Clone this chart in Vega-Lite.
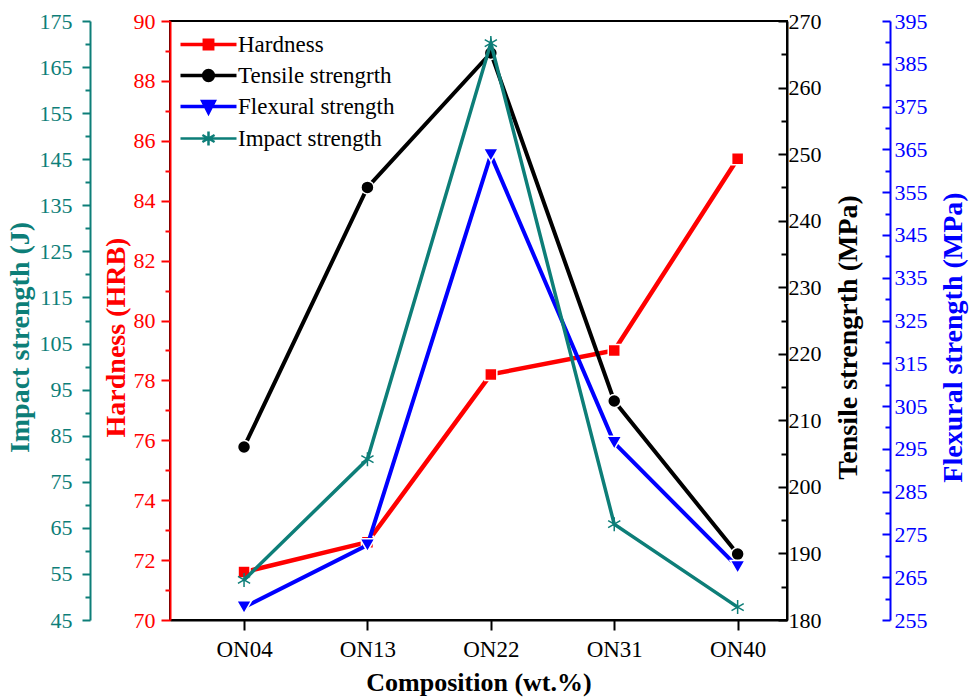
{
  "$schema": "https://vega.github.io/schema/vega-lite/v6.json",
  "width": 617,
  "height": 599,
  "autosize": {"type": "none"},
  "padding": {"left": 170, "top": 21, "right": 182, "bottom": 78},
  "background": "white",
  "config": {
    "view": {"stroke": "black", "strokeWidth": 2},
    "font": "Liberation Serif",
    "style": {
      "guide-label": {"font": "Liberation Serif"},
      "guide-title": {"font": "Liberation Serif"}
    },
    "axis": {
      "grid": false,
      "labelFont": "Liberation Serif",
      "titleFont": "Liberation Serif",
      "labelFontSize": 22,
      "titleFontSize": 28,
      "titleFontWeight": "bold",
      "domainWidth": 2,
      "tickWidth": 2,
      "labelFlush": false,
      "labelOverlap": false
    }
  },
  "data": {
    "values": [
      {"comp": "ON04", "property": "Hardness", "value": 71.6},
      {"comp": "ON13", "property": "Hardness", "value": 72.6},
      {"comp": "ON22", "property": "Hardness", "value": 78.2},
      {"comp": "ON31", "property": "Hardness", "value": 79.0},
      {"comp": "ON40", "property": "Hardness", "value": 85.4},
      {"comp": "ON04", "property": "Tensile strengrth", "value": 206.0},
      {"comp": "ON13", "property": "Tensile strengrth", "value": 245.0},
      {"comp": "ON22", "property": "Tensile strengrth", "value": 265.2},
      {"comp": "ON31", "property": "Tensile strengrth", "value": 212.9},
      {"comp": "ON40", "property": "Tensile strengrth", "value": 189.9},
      {"comp": "ON04", "property": "Flexural strength", "value": 258.0},
      {"comp": "ON13", "property": "Flexural strength", "value": 272.5},
      {"comp": "ON22", "property": "Flexural strength", "value": 363.7},
      {"comp": "ON31", "property": "Flexural strength", "value": 296.4},
      {"comp": "ON40", "property": "Flexural strength", "value": 267.4},
      {"comp": "ON04", "property": "Impact strength", "value": 53.7},
      {"comp": "ON13", "property": "Impact strength", "value": 79.9},
      {"comp": "ON22", "property": "Impact strength", "value": 170.2},
      {"comp": "ON31", "property": "Impact strength", "value": 65.8},
      {"comp": "ON40", "property": "Impact strength", "value": 47.8}
    ]
  },
  "encoding": {
    "x": {
      "field": "comp",
      "type": "ordinal",
      "sort": ["ON04", "ON13", "ON22", "ON31", "ON40"],
      "scale": {"type": "point", "padding": 0.5, "align": 0.6},
      "axis": {
        "title": "Composition (wt.%)",
        "labelFont": "Liberation Serif",
        "titleFont": "Liberation Serif",
        "labelFontSize": 23,
        "titleFontSize": 26,
        "titleColor": "black",
        "labelColor": "black",
        "domainColor": "black",
        "tickColor": "black",
        "tickSize": 10,
        "labelPadding": 8,
        "titlePadding": 8,
        "labelAngle": 0
      }
    },
    "color": {
      "field": "property",
      "type": "nominal",
      "scale": {
        "domain": ["Hardness", "Tensile strengrth", "Flexural strength", "Impact strength"],
        "range": ["#ff0000", "#000000", "#0000ff", "#0d7e78"]
      },
      "legend": {
        "orient": "none",
        "legendX": 0,
        "legendY": 12,
        "title": null,
        "padding": 0,
        "symbolSize": 196,
        "symbolStrokeWidth": 3.5,
        "symbolOffset": 27,
        "labelOffset": 18,
        "rowPadding": 6,
        "labelFont": "Liberation Serif",
        "labelFontSize": 23,
        "labelColor": "black",
        "labelLimit": 400,
        "encode": {
          "symbols": {
            "update": {
              "shape": {"signal": "datum.value === 'Hardness' ? 'M-4,0H4M-0.6,-0.6H0.6V0.6H-0.6Z' : datum.value === 'Tensile strengrth' ? 'M-4,0H4M-0.7,0A0.7,0.7 0 1,0 0.7,0A0.7,0.7 0 1,0 -0.7,0Z' : datum.value === 'Flexural strength' ? 'M-4,0H4M-0.8,-0.7H0.8L0,0.85Z' : 'M-4,0H4M0,-1V1M-0.87,-0.5L0.87,0.5M-0.87,0.5L0.87,-0.5'"},
              "fill": {"scale": "color", "field": "value"},
              "stroke": {"scale": "color", "field": "value"},
              "strokeWidth": {"signal": "datum.value === 'Impact strength' ? 2.5 : 3.5"},
              "opacity": {"value": 1}
            }
          }
        }
      }
    }
  },
  "layer": [
    {
      "transform": [{"filter": "datum.property === 'Hardness'"}],
      "mark": {"type": "line", "strokeWidth": 4.5},
      "encoding": {
        "y": {
          "field": "value", "type": "quantitative",
          "scale": {"domain": [70, 90], "nice": false, "zero": false},
          "axis": {
            "orient": "left", "offset": 0, "title": "Hardness (HRB)",
            "labelFont": "Liberation Serif", "titleFont": "Liberation Serif",
            "values": [70, 72, 74, 76, 78, 80, 82, 84, 86, 88, 90],
            "tickSize": 9, "labelPadding": 6, "titlePadding": 3, "titleY": 316,
            "domainColor": "#ff0000", "tickColor": "#ff0000", "labelColor": "#ff0000", "titleColor": "#ff0000"
          }
        }
      }
    },
    {
      "transform": [{"filter": "datum.property === 'Hardness'"}],
      "mark": {"type": "point", "shape": "square", "filled": true, "size": 144, "opacity": 1, "stroke": "white", "strokeWidth": 1.5},
      "encoding": {
        "y": {
          "field": "value", "type": "quantitative",
          "scale": {"domain": [70, 90], "nice": false, "zero": false},
          "axis": {
            "orient": "left", "offset": 0, "title": null, "labels": false, "domain": false,
            "values": [71, 73, 75, 77, 79, 81, 83, 85, 87, 89],
            "tickSize": 5, "tickColor": "#ff0000"
          }
        }
      }
    },
    {
      "transform": [{"filter": "datum.property === 'Tensile strengrth'"}],
      "mark": {"type": "line", "strokeWidth": 4},
      "encoding": {
        "y": {
          "field": "value", "type": "quantitative",
          "scale": {"domain": [180, 270], "nice": false, "zero": false},
          "axis": {
            "orient": "right", "offset": 0, "title": "Tensile strengrth (MPa)",
            "labelFont": "Liberation Serif", "titleFont": "Liberation Serif",
            "values": [180, 190, 200, 210, 220, 230, 240, 250, 260, 270],
            "tickSize": -9, "labelPadding": 10, "titlePadding": 13, "titleAngle": 270, "titleBaseline": "top", "titleY": 316,
            "domainColor": "black", "tickColor": "black", "labelColor": "black", "titleColor": "black"
          }
        }
      }
    },
    {
      "transform": [{"filter": "datum.property === 'Tensile strengrth'"}],
      "mark": {"type": "point", "shape": "circle", "filled": true, "size": 169, "opacity": 1, "stroke": "white", "strokeWidth": 1.5},
      "encoding": {
        "y": {
          "field": "value", "type": "quantitative",
          "scale": {"domain": [180, 270], "nice": false, "zero": false},
          "axis": {
            "orient": "right", "offset": 0, "title": null, "labels": false, "domain": false,
            "values": [185, 195, 205, 215, 225, 235, 245, 255, 265],
            "tickSize": -6, "tickColor": "black"
          }
        }
      }
    },
    {
      "transform": [{"filter": "datum.property === 'Flexural strength'"}],
      "mark": {"type": "line", "strokeWidth": 4},
      "encoding": {
        "y": {
          "field": "value", "type": "quantitative",
          "scale": {"domain": [255, 395], "nice": false, "zero": false},
          "axis": {
            "orient": "right", "offset": 103, "title": "Flexural strength (MPa)",
            "labelFont": "Liberation Serif", "titleFont": "Liberation Serif",
            "values": [255, 265, 275, 285, 295, 305, 315, 325, 335, 345, 355, 365, 375, 385, 395],
            "tickSize": -8, "labelPadding": 12, "titlePadding": 12, "titleAngle": 270, "titleBaseline": "top", "titleY": 316,
            "domainColor": "#0000ff", "tickColor": "#0000ff", "labelColor": "#0000ff", "titleColor": "#0000ff"
          }
        }
      }
    },
    {
      "transform": [{"filter": "datum.property === 'Flexural strength'"}],
      "mark": {"type": "point", "shape": "triangle-down", "filled": true, "size": 225, "opacity": 1, "stroke": "white", "strokeWidth": 1.5},
      "encoding": {
        "y": {
          "field": "value", "type": "quantitative",
          "scale": {"domain": [255, 395], "nice": false, "zero": false},
          "axis": {
            "orient": "right", "offset": 103, "title": null, "labels": false, "domain": false,
            "values": [260, 270, 280, 290, 300, 310, 320, 330, 340, 350, 360, 370, 380, 390],
            "tickSize": -5, "tickColor": "#0000ff"
          }
        }
      }
    },
    {
      "transform": [{"filter": "datum.property === 'Impact strength'"}],
      "mark": {"type": "line", "strokeWidth": 3.5},
      "encoding": {
        "y": {
          "field": "value", "type": "quantitative",
          "scale": {"domain": [45, 175], "nice": false, "zero": false},
          "axis": {
            "orient": "left", "offset": 80, "title": "Impact strength (J)",
            "labelFont": "Liberation Serif", "titleFont": "Liberation Serif",
            "values": [45, 55, 65, 75, 85, 95, 105, 115, 125, 135, 145, 155, 165, 175],
            "tickSize": 8, "labelPadding": 10, "titlePadding": 5, "titleY": 316,
            "domainColor": "#0d7e78", "tickColor": "#0d7e78", "labelColor": "#0d7e78", "titleColor": "#0d7e78"
          }
        }
      }
    },
    {
      "transform": [{"filter": "datum.property === 'Impact strength'"}],
      "mark": {"type": "point", "shape": "M0,-1V1M-0.87,-0.5L0.87,0.5M-0.87,0.5L0.87,-0.5", "filled": false, "size": 196, "opacity": 1, "strokeWidth": 1.5},
      "encoding": {
        "y": {
          "field": "value", "type": "quantitative",
          "scale": {"domain": [45, 175], "nice": false, "zero": false},
          "axis": {
            "orient": "left", "offset": 80, "title": null, "labels": false, "domain": false,
            "values": [50, 60, 70, 80, 90, 100, 110, 120, 130, 140, 150, 160, 170],
            "tickSize": 5, "tickColor": "#0d7e78"
          }
        }
      }
    }
  ],
  "resolve": {"scale": {"y": "independent"}}
}
